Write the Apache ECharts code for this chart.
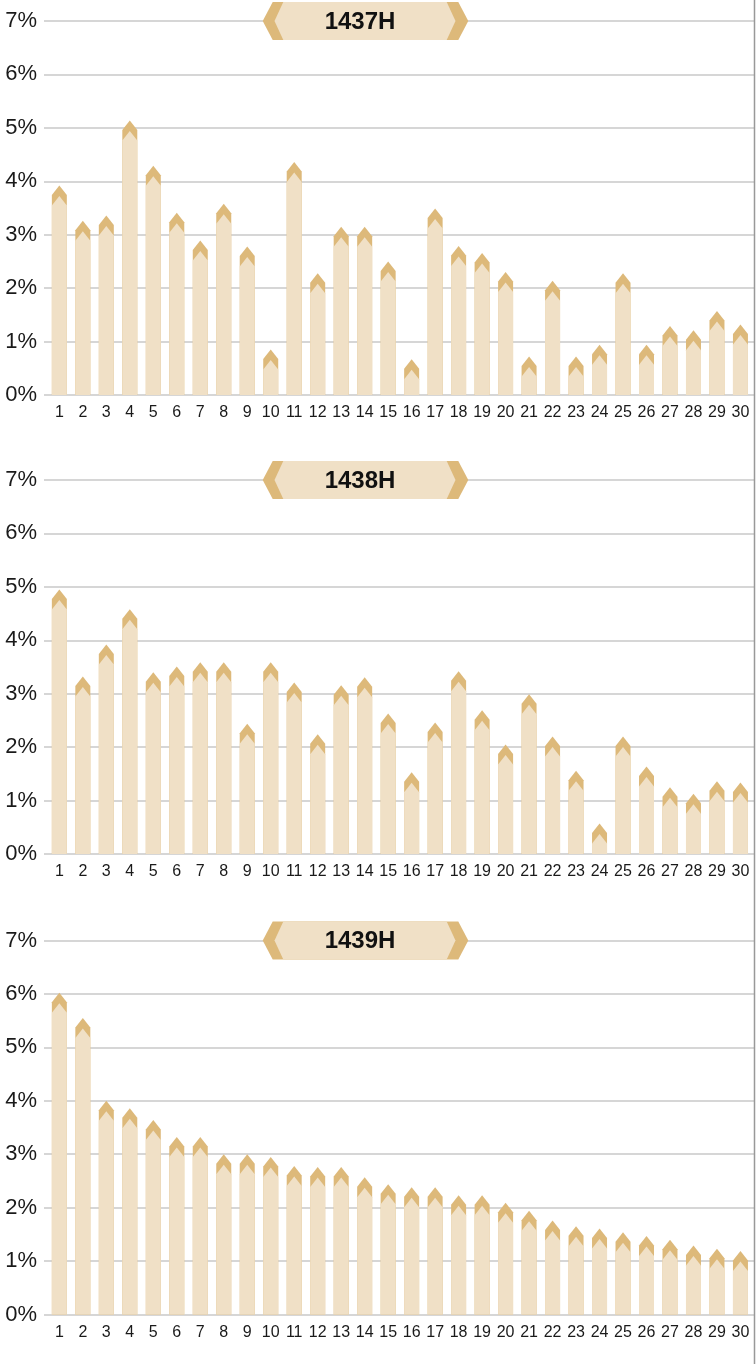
<!DOCTYPE html>
<html><head><meta charset="utf-8">
<script src="https://cdn.jsdelivr.net/npm/echarts@6/dist/echarts.min.js"></script>
<style>html,body{margin:0;padding:0;background:#fff}#c{width:756px;height:1364px}</style>
</head><body><div id="c"></div>
<script>
const days = Array.from({length:30},(_,i)=>String(i+1));
const titles = ['1437H','1438H','1439H'];
const yTicks = ['0%','1%','2%','3%','4%','5%','6%','7%'];
const values1437 = [3.92,3.26,3.36,5.14,4.29,3.41,2.89,3.58,2.78,0.85,4.36,2.28,3.15,3.15,2.50,0.67,3.49,2.79,2.66,2.30,0.72,2.14,0.72,0.94,2.28,0.94,1.29,1.21,1.57,1.32];
const values1438 = [4.95,3.32,3.92,4.58,3.40,3.51,3.59,3.59,2.44,3.59,3.21,2.24,3.16,3.31,2.63,1.53,2.46,3.42,2.69,2.05,2.99,2.20,1.56,0.57,2.20,1.64,1.25,1.13,1.36,1.34];
const values1439 = [6.02,5.55,4.00,3.86,3.64,3.32,3.32,3.00,3.00,2.95,2.78,2.76,2.76,2.57,2.44,2.38,2.38,2.23,2.23,2.09,1.94,1.76,1.65,1.61,1.54,1.47,1.40,1.29,1.23,1.19];
const allValues = [values1437, values1438, values1439];

const LIGHT = '#F0E0C6', DARK = '#DDB97A', GRID = '#c8c8c8', TXT = '#1a1a1a';
const tops = [21, 480, 940.5];
const H = 374;

const grids = [], xAxes = [], yAxes = [], series = [], graphics = [];
tops.forEach((t, k) => {
  grids.push({left:44, right:2, top:t, height:H});
  grids.push({left:47.6, right:3.8, top:t, height:H});
  const gb = 2*k, gc = 2*k+1;
  xAxes.push({type:'value', gridIndex:gb, min:0, max:1, show:false});
  yAxes.push({type:'value', gridIndex:gb, min:0, max:7, interval:1,
    axisLine:{show:false}, axisTick:{show:false},
    splitLine:{show:true, lineStyle:{color:GRID, width:1.5}},
    axisLabel:{formatter:(v)=>yTicks[v], fontFamily:'Liberation Sans', fontSize:22, color:TXT,
      margin:7, verticalAlign:'middle', padding:[0,0,12,0]}});
  xAxes.push({type:'category', gridIndex:gc, data:days, boundaryGap:true,
    axisLine:{show:false}, axisTick:{show:false},
    axisLabel:{fontFamily:'Liberation Sans', fontSize:16, color:TXT, margin:10, interval:0}});
  yAxes.push({type:'value', gridIndex:gc, min:0, max:7, show:false, splitLine:{show:false}});
  series.push({type:'custom', xAxisIndex:gc, yAxisIndex:gc,
    data: allValues[k].map((v,i)=>[i, v]),
    encode:{x:0, y:1},
    renderItem:(params, api)=>{
      const idx = api.value(0), v = api.value(1);
      const top = api.coord([idx, v]), base = api.coord([idx, 0]);
      const cx = top[0], y0 = top[1], yb = base[1], hw = 7.5, sh = 9.5, th = 10.5;
      const s1 = Math.min(y0+sh, yb), p2 = Math.min(y0+th, yb), s2 = Math.min(y0+th+sh, yb);
      return {type:'group', children:[
        {type:'polygon', shape:{points:[[cx-hw,yb],[cx-hw,s1],[cx,y0],[cx+hw,s1],[cx+hw,yb]]}, style:{fill:DARK}},
        {type:'polygon', shape:{points:[[cx-hw,yb],[cx-hw,s2],[cx,p2],[cx+hw,s2],[cx+hw,yb]]}, style:{fill:LIGHT}}
      ]};
    }});
  const cy = t;
  graphics.push({type:'polygon', shape:{points:[[262.7,cy],[272.7,cy-19],[458.3,cy-19],[468.3,cy],[458.3,cy+19],[272.7,cy+19]]}, style:{fill:DARK}, z:10});
  graphics.push({type:'polygon', shape:{points:[[274.5,cy],[283.3,cy-19],[446.7,cy-19],[455.5,cy],[446.7,cy+19],[283.3,cy+19]]}, style:{fill:LIGHT}, z:11});
  graphics.push({type:'text', x:360, y:cy+1, style:{text:titles[k], fontFamily:'Liberation Sans', fontWeight:'bold', fontSize:24, fill:'#111', align:'center', verticalAlign:'middle'}, z:12});
});
graphics.push({type:'line', shape:{x1:754.5, y1:0, x2:754.5, y2:1364}, style:{stroke:'#999', lineWidth:1.5}, z:5});

const chart = echarts.init(document.getElementById('c'), null, {renderer:'canvas'});
chart.setOption({animation:false, grid:grids, xAxis:xAxes, yAxis:yAxes, series:series, graphic:graphics});
</script></body></html>
